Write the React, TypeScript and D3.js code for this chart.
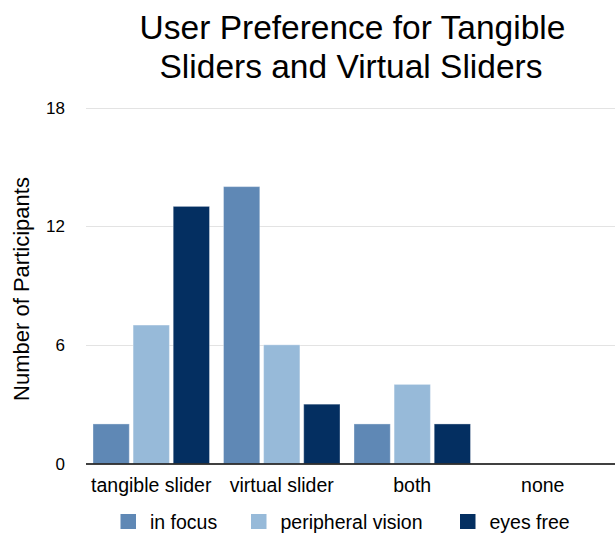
import React from "react";
import * as d3 from "d3";

const categories = ["tangible slider", "virtual slider", "both", "none"];
const seriesNames = ["in focus", "peripheral vision", "eyes free"];
const inFocus = [2, 14, 2, 0];
const peripheralVision = [7, 6, 4, 0];
const eyesFree = [13, 3, 2, 0];
const yTicks = [0, 6, 12, 18];
const colors = ["#5f88b5", "#97bad9", "#042f61"];

const W = 615;
const H = 537;
const font = "'Liberation Sans', Arial, Helvetica, sans-serif";

export default function App() {
  const left = 86;
  const right = 608;
  const y = d3.scaleLinear().domain([0, 18]).range([463.5, 107.5]);
  const x0 = d3.scaleBand().domain(categories).range([left, right]).paddingInner(0).paddingOuter(0);
  const x1 = d3
    .scaleBand()
    .domain(seriesNames)
    .range([7, x0.bandwidth() - 7])
    .paddingInner(0.095)
    .paddingOuter(0);
  const series = [inFocus, peripheralVision, eyesFree];
  const legendX = [120.5, 251, 460];
  return (
    <svg width={W} height={H} style={{ position: "absolute", left: 0, top: 0 }}>
      <rect width={W} height={H} fill="#fff" />
      <text x={352.5} y={39} textAnchor="middle" fontFamily={font} fontSize={33.5} fill="#000">
        User Preference for Tangible
      </text>
      <text x={351} y={78} textAnchor="middle" fontFamily={font} fontSize={33.5} fill="#000">
        Sliders and Virtual Sliders
      </text>
      {yTicks.map((t) => (
        <g key={t}>
          {t > 0 && (
            <line x1={left} x2={W} y1={Math.round(y(t)) + 0.5} y2={Math.round(y(t)) + 0.5} stroke="#e3e3e3" strokeWidth={1} />
          )}
          <text x={65} y={y(t) + 6} textAnchor="end" fontFamily={font} fontSize={17} fill="#000">
            {t}
          </text>
        </g>
      ))}
      <text
        transform={`translate(29, 289) rotate(-90)`}
        textAnchor="middle"
        fontFamily={font}
        fontSize={22}
        fill="#000"
      >
        Number of Participants
      </text>
      {categories.map((c, ci) =>
        series.map((s, si) => {
          const v = s[ci];
          if (v <= 0) return null;
          const bx = (x0(c) as number) + (x1(seriesNames[si]) as number);
          return (
            <rect
              key={c + si}
              x={bx}
              y={y(v)}
              width={x1.bandwidth()}
              height={y(0) - y(v)}
              fill={colors[si]}
              stroke="#ffffff"
              strokeOpacity={0.35}
              strokeWidth={1}
            />
          );
        })
      )}
      <line x1={left} x2={W} y1={464} y2={464} stroke="#000" strokeWidth={1.3} />
      {categories.map((c) => (
        <text
          key={c}
          x={(x0(c) as number) + x0.bandwidth() / 2}
          y={492}
          textAnchor="middle"
          fontFamily={font}
          fontSize={19.5}
          fill="#000"
        >
          {c}
        </text>
      ))}
      {seriesNames.map((n, i) => (
        <g key={n}>
          <rect x={legendX[i]} y={514} width={15.5} height={15} fill={colors[i]} />
          <text x={legendX[i] + 29.5} y={529} fontFamily={font} fontSize={19.5} fill="#000">
            {n}
          </text>
        </g>
      ))}
    </svg>
  );
}
